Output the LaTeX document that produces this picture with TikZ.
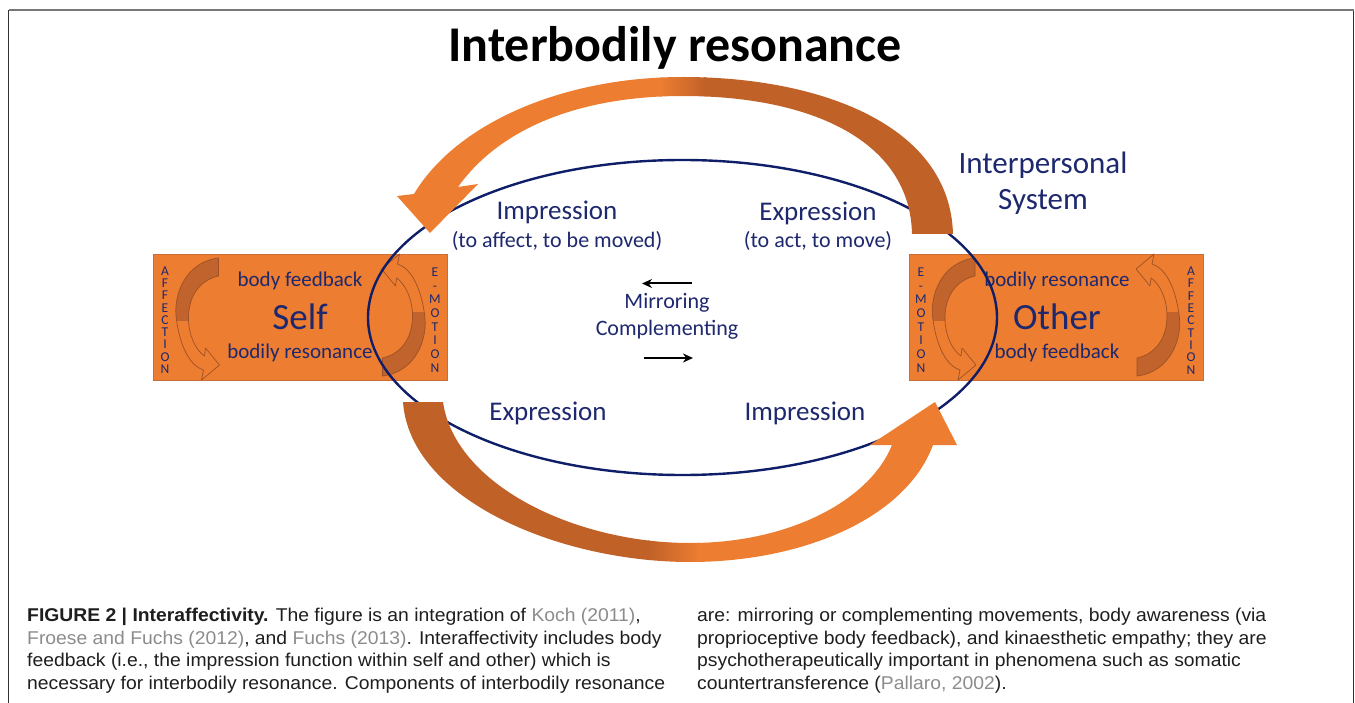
\documentclass[tikz,border=0pt]{standalone}
\usepackage{fontspec}
\setmainfont{Carlito}
\newfontfamily\capfont[FakeStretch=1.045]{Liberation Sans}
\usetikzlibrary{arrows.meta,shapes.geometric}
\definecolor{navy}{RGB}{30,40,110}
\definecolor{linenavy}{RGB}{15,30,105}
\definecolor{oL}{RGB}{237,125,49}
\definecolor{oD}{RGB}{192,97,40}
\definecolor{oE}{RGB}{200,110,55}
\definecolor{oS}{RGB}{185,95,45}
\definecolor{cgray}{RGB}{140,140,140}
\definecolor{capblack}{RGB}{30,30,30}
\definecolor{frtop}{RGB}{120,120,120}
\definecolor{frside}{RGB}{50,50,50}
\tikzset{
  lbl/.style={text=navy, inner sep=0pt},
  fbig/.style={font=\fontsize{27}{32}\selectfont},
  fmid/.style={font=\fontsize{22}{26}\selectfont},
  fbox/.style={font=\fontsize{21}{25}\selectfont},
  fname/.style={font=\fontsize{37}{44}\selectfont},
  fsys/.style={font=\fontsize{31}{37}\selectfont},
  vcolA/.style={text=navy, inner sep=0pt, align=center, font=\fontsize{13.5}{12.3}\selectfont},
  vcolE/.style={text=navy, inner sep=0pt, align=center, font=\fontsize{13.5}{13.7}\selectfont},
  boxst/.style={draw=oE, fill=oL, line width=0.8pt, minimum width=294pt, minimum height=126pt, inner sep=0pt},
  capt/.style={inner sep=0pt, text=capblack, font=\capfont\fontsize{18.5}{22}\selectfont},
  mirr/.style={line width=2pt, -{Stealth[length=10pt,width=9pt]}},
  pics/smallarr/.style={code={
    \begin{scope}
      \clip (-40,-80) rectangle (40,4);
      \fill[oS, fill opacity=0.85] (21,-59) .. controls (-12,-55) and (-25,-22) .. (-21,3)
        .. controls (-17,31) and (-7,49) .. (6,53) -- (4,63) -- (22,48) -- (8,31) -- (7,39)
        .. controls (-2,33) and (-9,18) .. (-9,1) .. controls (-9,-22) and (3,-37) .. (21,-41) -- cycle;
    \end{scope}
    \draw[oS!85!black, line width=0.7pt, line join=round] (21,-59) .. controls (-12,-55) and (-25,-22) .. (-21,3)
        .. controls (-17,31) and (-7,49) .. (6,53) -- (4,63) -- (22,48) -- (8,31) -- (7,39)
        .. controls (-2,33) and (-9,18) .. (-9,1) .. controls (-9,-22) and (3,-37) .. (21,-41) -- cycle;
  }}
}
\begin{document}
\begin{tikzpicture}[x=1pt,y=-1pt]
\useasboundingbox (0,0) rectangle (1355,703);
\fill[white] (0,0) rectangle (1355,703);

% frame
\coordinate (fBL) at (8.5,703);
\coordinate (fTL) at (8.5,10);
\coordinate (fTR) at (1353.5,10);
\coordinate (fBR) at (1353.5,703);
\draw[frside, line width=1.6pt] (fBL) -- (fTL);
\draw[frside, line width=1.6pt] (fTR) -- (fBR);
\draw[frtop, line width=1.8pt] (fTL) -- (fTR);

% title
\node[inner sep=0pt, font=\fontsize{50}{60}\selectfont\bfseries] (title) at (675,48) {Interbodily resonance};

% boxes
\node[boxst] (self) at (300,317) {};
\node[boxst] (other) at (1056,317.5) {};

\pic at (197.5,317) {smallarr};
\pic[rotate=180] at (403.5,317) {smallarr};
\pic at (954,317) {smallarr};
\pic[rotate=180] at (1158,317) {smallarr};

% box texts
\node[lbl,fbox] (sfb) at (300,281) {body feedback};
\node[lbl,fname] (selfname) at (300,317) {Self};
\node[lbl,fbox] (sbr) at (300,353) {bodily resonance};
\node[lbl,fbox] (obr) at (1057,281) {bodily resonance};
\node[lbl,fname] (othername) at (1057,317) {Other};
\node[lbl,fbox] (ofb) at (1057,353) {body feedback};

\node[vcolA] (saff) at (165,320) {A\\F\\F\\E\\C\\T\\I\\O\\N};
\node[vcolA] (oaff) at (1191,320.5) {A\\F\\F\\E\\C\\T\\I\\O\\N};
\node[vcolE] (semo) at (435,320) {E\\-\\M\\O\\T\\I\\O\\N};
\node[vcolE] (oemo) at (921,320) {E\\-\\M\\O\\T\\I\\O\\N};

% interpersonal system ellipse
\node[draw=linenavy, line width=2.4pt, ellipse, minimum width=629pt, minimum height=315pt, inner sep=0pt] (sys) at (682.5,317.5) {};

% top big arrow
\begin{scope}
  \clip (953,234) .. controls (950,125) and (820,77) .. (683,77)
     .. controls (560,77) and (455,125) .. (414,194) -- (397,196) -- (430,233) -- (478,184) -- (458,187)
     .. controls (500,128) and (580,96) .. (683,96) .. controls (810,96) and (910,140) .. (912,234) -- cycle;
  \fill[oL] (380,60) rectangle (662,240);
  \shade[left color=oL, right color=oD] (660,60) rectangle (706,240);
  \fill[oD] (704,60) rectangle (970,240);
\end{scope}

% bottom big arrow
\begin{scope}
  \clip (403,402) -- (443,402) .. controls (455,485) and (575,543) .. (690,543)
     .. controls (790,543) and (870,500) .. (892,445) -- (870,445) -- (935,402) -- (957,445) -- (933,445)
     .. controls (905,520) and (800,562) .. (690,562) .. controls (560,562) and (410,500) .. (403,402) -- cycle;
  \fill[oD] (390,390) rectangle (650,570);
  \shade[left color=oD, right color=oL] (648,390) rectangle (700,570);
  \fill[oL] (698,390) rectangle (970,570);
\end{scope}

% texts
\node[lbl,fsys] (ip) at (1043,165) {Interpersonal};
\node[lbl,fsys] (sy) at (1043,202) {System};
\node[lbl,fbig] (imp1) at (557,212) {Impression};
\node[lbl,fmid] (imp1s) at (557,241) {(to affect, to be moved)};
\node[lbl,fbig] (exp1) at (818,213) {Expression};
\node[lbl,fmid] (exp1s) at (818,241) {(to act, to move)};
\node[lbl,fmid] (mir) at (667,303) {Mirroring};
\node[lbl,fmid] (comp) at (667,330) {Complementing};
\node[lbl,fbig] (exp2) at (548,413) {Expression};
\node[lbl,fbig] (imp2) at (805,413) {Impression};

\coordinate (m1s) at (692,283.5);
\coordinate (m1e) at (642,283.5);
\coordinate (m2s) at (644,358);
\coordinate (m2e) at (693,358);
\draw[mirr] (m1s) -- (m1e);
\draw[mirr] (m2s) -- (m2e);

% caption
\node[capt, anchor=base west] (c1) at (27,621) {\textbf{FIGURE 2 | Interaffectivity.} The figure is an integration of \textcolor{cgray}{Koch (2011)},};
\node[capt, anchor=base west] (c2) at (27,644) {\textcolor{cgray}{Froese and Fuchs (2012)}, and \textcolor{cgray}{Fuchs (2013)}. Interaffectivity includes body};
\node[capt, anchor=base west] (c3) at (27,666) {feedback (i.e., the impression function within self and other) which is};
\node[capt, anchor=base west] (c4) at (27,689) {necessary for interbodily resonance. Components of interbodily resonance};
\node[capt, anchor=base west] (c5) at (697,621) {are: mirroring or complementing movements, body awareness (via};
\node[capt, anchor=base west] (c6) at (697,644) {proprioceptive body feedback), and kinaesthetic empathy; they are};
\node[capt, anchor=base west] (c7) at (697,666) {psychotherapeutically important in phenomena such as somatic};
\node[capt, anchor=base west] (c8) at (697,689) {countertransference (\textcolor{cgray}{Pallaro, 2002}).};
\end{tikzpicture}
\end{document}
